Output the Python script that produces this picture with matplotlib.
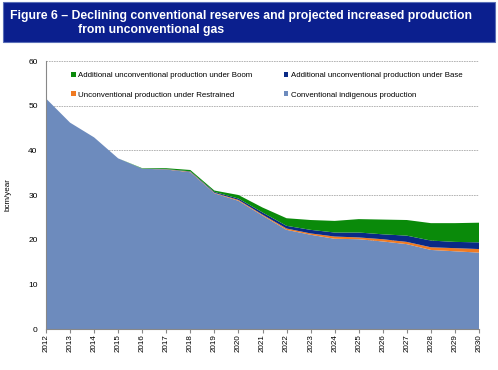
import matplotlib.pyplot as plt
from matplotlib.patches import Rectangle

plt.rcParams['font.family'] = ['Liberation Sans', 'DejaVu Sans']

years = list(range(2012, 2031))
conventional = [51.6, 46.2, 42.9, 38.2, 35.9, 35.7, 35.1, 30.4, 28.7, 25.4,
                22.2, 21.1, 20.2, 20.1, 19.6, 19.0, 17.7, 17.4, 17.1]
restrained = [0.0, 0.0, 0.0, 0.0, 0.0, 0.05, 0.1, 0.1, 0.2, 0.2,
              0.3, 0.3, 0.5, 0.4, 0.5, 0.5, 0.6, 0.7, 0.8]
base_extra = [0.0, 0.0, 0.0, 0.0, 0.0, 0.05, 0.1, 0.2, 0.3, 0.5,
              0.6, 0.8, 0.9, 1.1, 1.1, 1.4, 1.5, 1.4, 1.5]
boom_extra = [0.0, 0.0, 0.0, 0.0, 0.1, 0.2, 0.3, 0.3, 0.8, 1.1,
              1.7, 2.2, 2.6, 3.0, 3.3, 3.5, 3.9, 4.2, 4.4]

labels = ["Conventional indigenous production",
          "Unconventional production under Restrained",
          "Additional unconventional production under Base",
          "Additional unconventional production under Boom"]
colors = ["#6d8bbd", "#f07a22", "#0a2a86", "#0a8a0a"]

fig = plt.figure(figsize=(4.98, 3.70), dpi=100)
fig.patches.append(Rectangle((0.006, 0.886), 0.988, 0.108, transform=fig.transFigure,
                             facecolor="#0b1f8e", edgecolor="#5a6fb8", lw=0.8))
fig.text(10 / 498, 1 - 16 / 370, "Figure 6 \u2013 Declining conventional reserves and projected increased production",
         color="white", fontsize=8.8, fontweight="bold", va="center")
fig.text(78 / 498, 1 - 30 / 370, "from unconventional gas",
         color="white", fontsize=8.8, fontweight="bold", va="center")

ax = fig.add_axes([46 / 498, 1 - 329 / 370, 433 / 498, 268 / 370])
polys = ax.stackplot(years, conventional, restrained, base_extra, boom_extra,
                     colors=colors, labels=labels, lw=0)

ax.set_xlim(2012, 2030)
ax.set_ylim(0, 60)
ax.set_yticks(range(0, 61, 10))
ax.set_xticks(years)
ax.set_xticklabels([str(y) for y in years], rotation=90, fontsize=5.8)
ax.tick_params(axis="y", labelsize=6, length=0, pad=6)
ax.tick_params(axis="x", length=3, color="#888888", pad=1)
ax.yaxis.grid(True, linestyle=(0, (2, 1)), color="#aaaaaa", lw=0.6)
ax.set_axisbelow(True)
for s in ["top", "right"]:
    ax.spines[s].set_visible(False)
for s in ["left", "bottom"]:
    ax.spines[s].set_color("#888888")
    ax.spines[s].set_linewidth(0.8)
ax.set_ylabel("bcm/year", fontsize=5.8, labelpad=12)

order = [3, 1, 2, 0]
ax.legend([polys[i] for i in order], [labels[i] for i in order], ncol=2,
          loc="upper left", bbox_to_anchor=(0.042, 0.985), frameon=False,
          fontsize=5.7, handlelength=0.6, handleheight=0.6, handletextpad=0.3,
          columnspacing=3.9, labelspacing=1.5)

fig.savefig("out.png", dpi=100)
